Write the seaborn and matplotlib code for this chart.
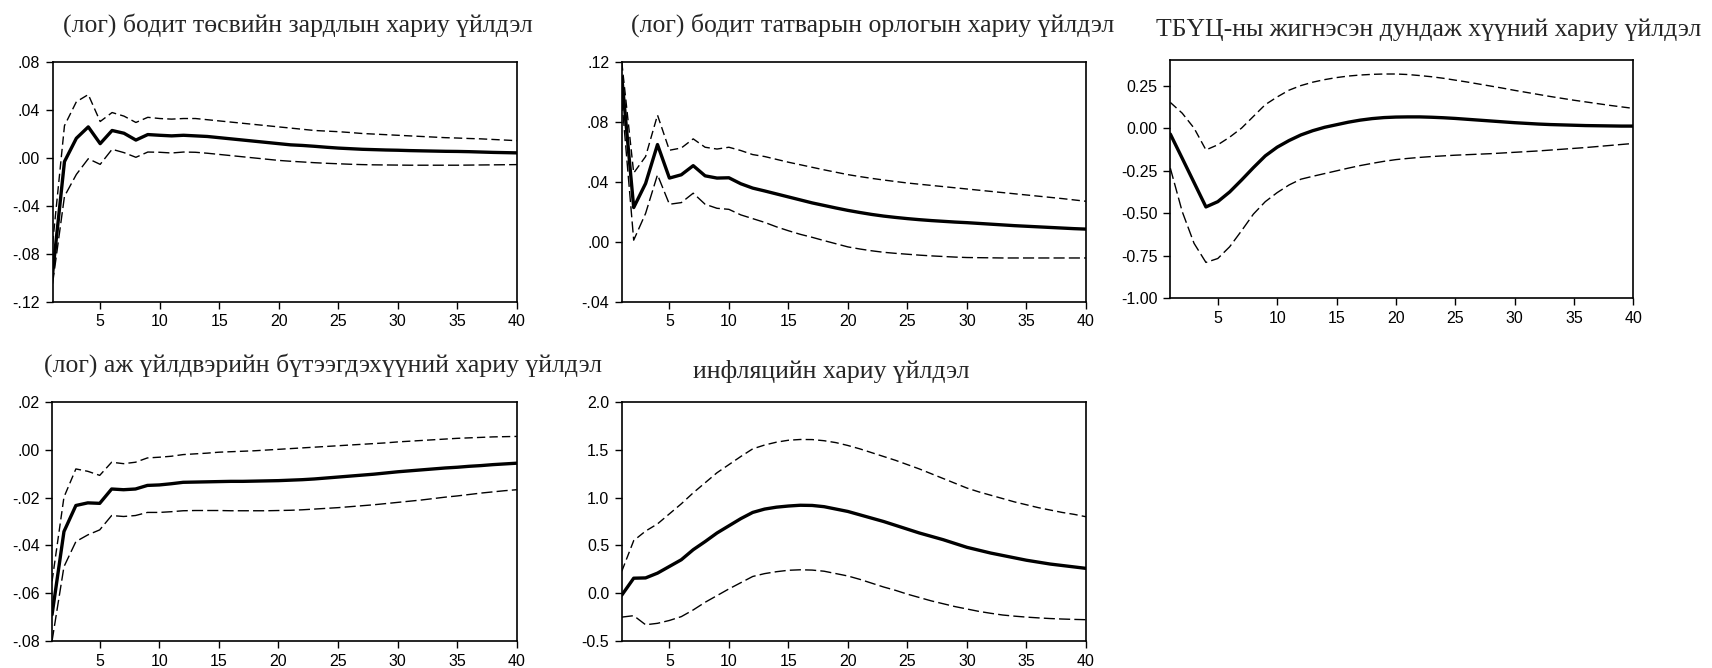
import matplotlib
matplotlib.use("Agg")

import matplotlib.pyplot as plt
import pandas as pd
import seaborn as sns

# periods 1..40
periods = list(range(1, 41))

# (лог) бодит төсвийн зардал
exp_mean = [-0.097, -0.003, 0.0165, 0.026, 0.012, 0.023, 0.0207, 0.015, 0.0196, 0.019,
            0.0185, 0.019, 0.0185, 0.018, 0.017, 0.016, 0.015, 0.014, 0.013, 0.012,
            0.011, 0.0105, 0.0098, 0.009, 0.0083, 0.0078, 0.0073, 0.007, 0.0067, 0.0065,
            0.0062, 0.006, 0.0058, 0.0056, 0.0055, 0.0053, 0.005, 0.0047, 0.0045, 0.0043]
exp_upper = [-0.072, 0.027, 0.047, 0.053, 0.0305, 0.038, 0.035, 0.0297, 0.034, 0.033,
             0.0325, 0.033, 0.033, 0.032, 0.031, 0.030, 0.029, 0.028, 0.027, 0.026,
             0.025, 0.024, 0.023, 0.0225, 0.022, 0.0213, 0.0205, 0.020, 0.0195, 0.019,
             0.0185, 0.018, 0.0175, 0.017, 0.0167, 0.0163, 0.016, 0.0155, 0.015, 0.0145]
exp_lower = [-0.105, -0.032, -0.0137, -0.0006, -0.0053, 0.0073, 0.0045, 0.0006, 0.005, 0.0048,
             0.0042, 0.005, 0.0048, 0.004, 0.003, 0.002, 0.001, 0.0, -0.001, -0.002,
             -0.0027, -0.0033, -0.0039, -0.0044, -0.0048, -0.0052, -0.0055, -0.0057, -0.0058, -0.0059,
             -0.006, -0.006, -0.006, -0.006, -0.006, -0.0059, -0.0058, -0.0057, -0.0056, -0.0055]

# (лог) бодит татварын орлого
tax_mean = [0.110, 0.0229, 0.039, 0.065, 0.0426, 0.0448, 0.0509, 0.0441, 0.0426, 0.0428,
            0.0388, 0.0359, 0.034, 0.032, 0.030, 0.028, 0.026, 0.0243, 0.0226, 0.021,
            0.0196, 0.0183, 0.0172, 0.0163, 0.0155, 0.0148, 0.0142, 0.0137, 0.0132, 0.0128,
            0.0123, 0.0118, 0.0113, 0.0108, 0.0104, 0.010, 0.0096, 0.0092, 0.0088, 0.0085]
tax_upper = [0.120, 0.046, 0.057, 0.0847, 0.0612, 0.0627, 0.0688, 0.0632, 0.062, 0.0632,
             0.061, 0.0583, 0.057, 0.0551, 0.0532, 0.0515, 0.0498, 0.0481, 0.0465, 0.0449,
             0.0436, 0.0424, 0.0413, 0.0403, 0.0393, 0.0385, 0.0377, 0.0369, 0.0361, 0.0353,
             0.0345, 0.0337, 0.0329, 0.0321, 0.0313, 0.0305, 0.0297, 0.0289, 0.028, 0.0271]
tax_lower = [0.095, 0.0011, 0.019, 0.0448, 0.0251, 0.0262, 0.0325, 0.0251, 0.0224, 0.0217,
             0.018, 0.0155, 0.013, 0.010, 0.0074, 0.005, 0.003, 0.0008, -0.0013, -0.0034,
             -0.0048, -0.006, -0.007, -0.0077, -0.0083, -0.0089, -0.0094, -0.0098, -0.0102, -0.0105,
             -0.0106, -0.0107, -0.0108, -0.0108, -0.0108, -0.0108, -0.0108, -0.0108, -0.0108, -0.0108]

# ТБҮЦ-ны жигнэсэн дундаж хүү
rate_mean = [-0.035, -0.177, -0.32, -0.463, -0.432, -0.375, -0.305, -0.232, -0.163, -0.112,
             -0.073, -0.04, -0.015, 0.005, 0.02, 0.035, 0.047, 0.056, 0.062, 0.065,
             0.066, 0.066, 0.064, 0.061, 0.057, 0.052, 0.047, 0.042, 0.037, 0.032,
             0.028, 0.024, 0.021, 0.019, 0.017, 0.015, 0.014, 0.013, 0.012, 0.012]
rate_upper = [0.151, 0.088, 0.0, -0.128, -0.098, -0.053, 0.0, 0.069, 0.138, 0.183,
              0.223, 0.25, 0.27, 0.285, 0.297, 0.306, 0.312, 0.316, 0.318, 0.318,
              0.315, 0.309, 0.302, 0.293, 0.282, 0.271, 0.259, 0.247, 0.235, 0.222,
              0.21, 0.198, 0.186, 0.175, 0.164, 0.154, 0.144, 0.134, 0.125, 0.116]
rate_lower = [-0.235, -0.49, -0.677, -0.789, -0.766, -0.697, -0.603, -0.505, -0.432, -0.379,
              -0.334, -0.30, -0.283, -0.267, -0.251, -0.235, -0.22, -0.207, -0.195, -0.185,
              -0.178, -0.172, -0.167, -0.163, -0.159, -0.156, -0.153, -0.15, -0.146, -0.142,
              -0.138, -0.134, -0.129, -0.124, -0.119, -0.114, -0.108, -0.102, -0.096, -0.09]

# (лог) аж үйлдвэрийн бүтээгдэхүүн
ind_mean = [-0.069, -0.0342, -0.0233, -0.0222, -0.0224, -0.0164, -0.0167, -0.0164, -0.0149, -0.0147,
            -0.0142, -0.0136, -0.0135, -0.0134, -0.0133, -0.0132, -0.0132, -0.0131, -0.013, -0.0129,
            -0.0127, -0.0125, -0.0122, -0.0118, -0.0114, -0.011, -0.0106, -0.0102, -0.0097, -0.0092,
            -0.0088, -0.0084, -0.008, -0.0076, -0.0073, -0.0069, -0.0066, -0.0062, -0.0059, -0.0056]
ind_upper = [-0.055, -0.0198, -0.008, -0.009, -0.0107, -0.0052, -0.0058, -0.0052, -0.0034, -0.0031,
             -0.0027, -0.002, -0.0017, -0.0014, -0.001, -0.0008, -0.0006, -0.0004, -0.0001, 0.0002,
             0.0005, 0.0008, 0.0011, 0.0014, 0.0017, 0.002, 0.0023, 0.0026, 0.0029, 0.0033,
             0.0036, 0.0039, 0.0042, 0.0045, 0.0048, 0.005, 0.0052, 0.0054, 0.0055, 0.0056]
ind_lower = [-0.080, -0.0489, -0.0384, -0.0356, -0.0335, -0.0275, -0.0279, -0.0275, -0.0262, -0.0262,
             -0.0259, -0.0255, -0.0254, -0.0254, -0.0254, -0.0255, -0.0255, -0.0255, -0.0255, -0.0254,
             -0.0253, -0.0251, -0.0248, -0.0245, -0.0242, -0.0238, -0.0234, -0.023, -0.0225, -0.022,
             -0.0215, -0.021, -0.0204, -0.0198, -0.0193, -0.0187, -0.0181, -0.0176, -0.0171, -0.0167]

# инфляци
inf_mean = [-0.02, 0.157, 0.16, 0.21, 0.28, 0.35, 0.455, 0.54, 0.63, 0.705,
            0.78, 0.845, 0.88, 0.90, 0.912, 0.92, 0.918, 0.905, 0.88, 0.855,
            0.82, 0.785, 0.75, 0.71, 0.67, 0.63, 0.595, 0.56, 0.52, 0.48,
            0.45, 0.42, 0.395, 0.37, 0.345, 0.325, 0.305, 0.29, 0.275, 0.26]
inf_upper = [0.23, 0.55, 0.65, 0.725, 0.83, 0.935, 1.05, 1.155, 1.26, 1.345,
             1.43, 1.51, 1.55, 1.58, 1.60, 1.608, 1.607, 1.595, 1.575, 1.545,
             1.51, 1.47, 1.43, 1.39, 1.345, 1.30, 1.25, 1.20, 1.15, 1.10,
             1.06, 1.025, 0.99, 0.955, 0.925, 0.895, 0.87, 0.845, 0.825, 0.80]
inf_lower = [-0.25, -0.235, -0.33, -0.315, -0.285, -0.245, -0.175, -0.095, -0.025, 0.045,
             0.11, 0.175, 0.205, 0.225, 0.24, 0.245, 0.242, 0.23, 0.205, 0.18,
             0.145, 0.105, 0.065, 0.03, -0.01, -0.045, -0.08, -0.11, -0.14, -0.165,
             -0.19, -0.21, -0.228, -0.24, -0.25, -0.258, -0.265, -0.27, -0.274, -0.277]

titles = [
    "(лог) бодит төсвийн зардлын хариу үйлдэл",
    "(лог) бодит татварын орлогын хариу үйлдэл",
    "ТБҮЦ-ны жигнэсэн дундаж хүүний хариу үйлдэл",
    "(лог) аж үйлдвэрийн бүтээгдэхүүний хариу үйлдэл",
    "инфляцийн хариу үйлдэл",
]

ytick_vals = [
    [-0.12, -0.08, -0.04, 0.0, 0.04, 0.08],
    [-0.04, 0.0, 0.04, 0.08, 0.12],
    [-1.0, -0.75, -0.5, -0.25, 0.0, 0.25],
    [-0.08, -0.06, -0.04, -0.02, 0.0, 0.02],
    [-0.5, 0.0, 0.5, 1.0, 1.5, 2.0],
]
ytick_labels = [
    ["-.12", "-.08", "-.04", ".00", ".04", ".08"],
    ["-.04", ".00", ".04", ".08", ".12"],
    ["-1.00", "-0.75", "-0.50", "-0.25", "0.00", "0.25"],
    ["-.08", "-.06", "-.04", "-.02", ".00", ".02"],
    ["-0.5", "0.0", "0.5", "1.0", "1.5", "2.0"],
]
ylims = [(-0.12, 0.08), (-0.04, 0.12), (-1.0, 0.40), (-0.08, 0.02), (-0.5, 2.0)]
xticks = [5, 10, 15, 20, 25, 30, 35, 40]

series = [
    (exp_mean, exp_upper, exp_lower),
    (tax_mean, tax_upper, tax_lower),
    (rate_mean, rate_upper, rate_lower),
    (ind_mean, ind_upper, ind_lower),
    (inf_mean, inf_upper, inf_lower),
]

sns.set_theme(style="ticks")
plt.rcParams["font.family"] = ["Liberation Sans", "DejaVu Sans"]

fig = plt.figure(figsize=(17.12, 6.68), dpi=100)

rects = [
    [0.0307, 0.5484, 0.2712, 0.3584],
    [0.3632, 0.5484, 0.2711, 0.3584],
    [0.6836, 0.5534, 0.2704, 0.3567],
    [0.0304, 0.0404, 0.2715, 0.3578],
    [0.3632, 0.0404, 0.2711, 0.3578],
]
title_pos = [(0.1740, 0.9626), (0.5099, 0.9626), (0.8347, 0.9551),
             (0.1887, 0.4536), (0.4854, 0.4436)]

for i, (mean, upper, lower) in enumerate(series):
    ax = fig.add_axes(rects[i])
    df = pd.DataFrame({"period": periods, "mean": mean,
                       "upper": upper, "lower": lower})
    sns.lineplot(data=df, x="period", y="upper", ax=ax, color="black",
                 lw=1.0, linestyle=(0, (6, 3)))
    sns.lineplot(data=df, x="period", y="lower", ax=ax, color="black",
                 lw=1.0, linestyle=(0, (8, 3)))
    sns.lineplot(data=df, x="period", y="mean", ax=ax, color="black", lw=2.4)

    ax.set_xlim(1, 40)
    ax.set_ylim(*ylims[i])
    ax.set_xticks(xticks)
    ax.set_yticks(ytick_vals[i])
    ax.set_yticklabels(ytick_labels[i])
    ax.set_xlabel("")
    ax.set_ylabel("")
    ax.tick_params(direction="out", length=5, width=1, labelsize=11.5,
                   colors="black", pad=4)
    for sp in ax.spines.values():
        sp.set_visible(True)
        sp.set_color("black")
        sp.set_linewidth(1.2)

    fig.text(title_pos[i][0], title_pos[i][1], titles[i], ha="center",
             va="center", fontsize=18.5,
             family=["Liberation Serif", "DejaVu Serif"])

fig.savefig("out.png", dpi=100)
plt.close(fig)
